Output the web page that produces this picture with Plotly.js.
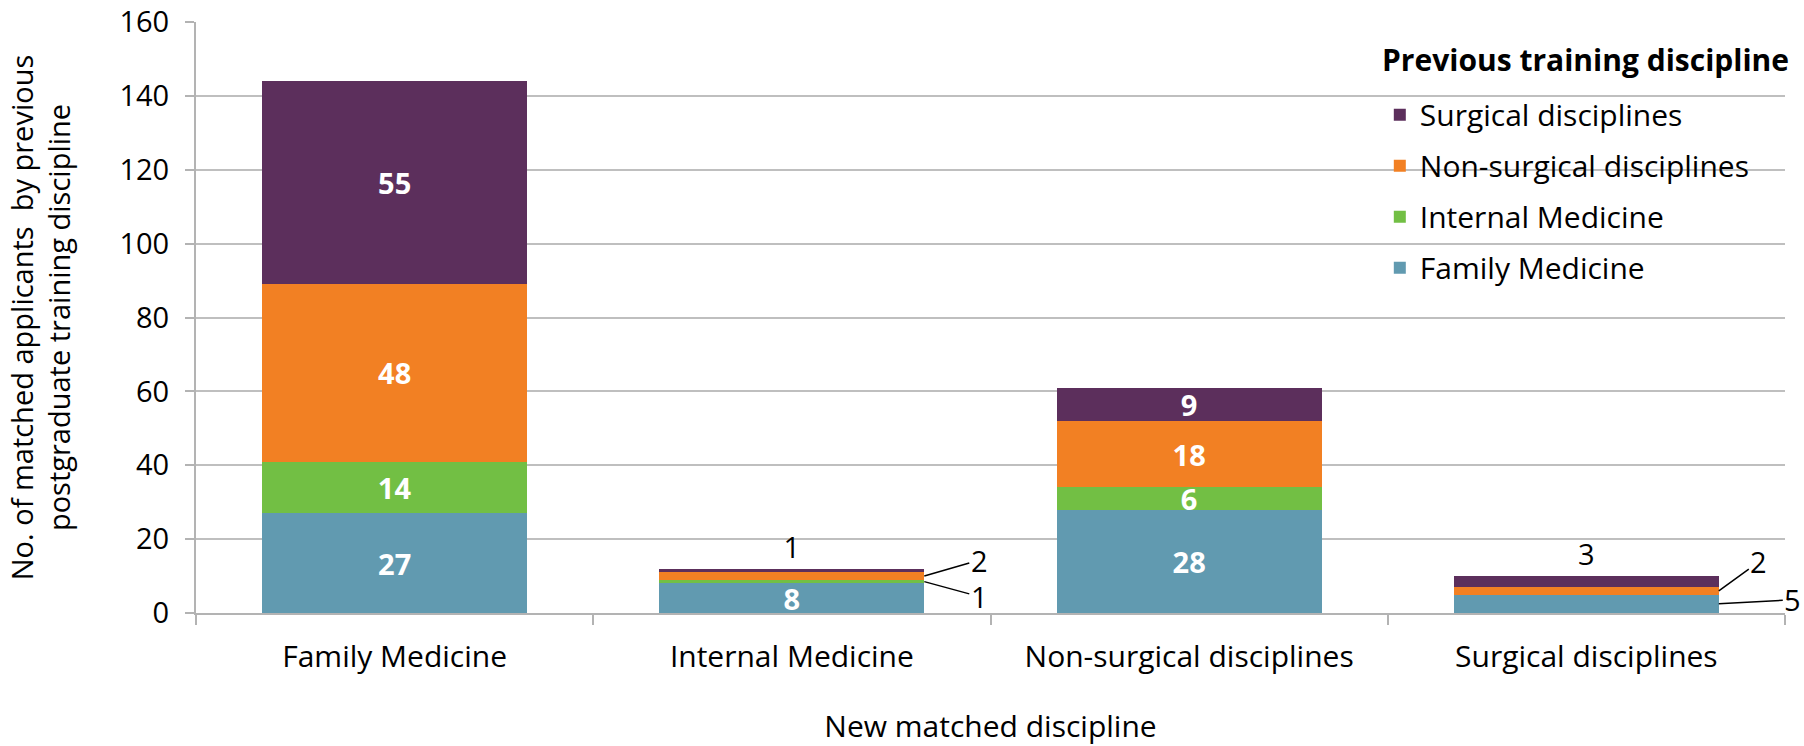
<!DOCTYPE html>
<html>
<head>
<meta charset="utf-8">
<script src="https://cdn.plot.ly/plotly-3.0.1.min.js"></script>
<style>html,body{margin:0;padding:0;background:#fff;}#chart{width:1804px;height:746px;}</style>
</head>
<body>
<div id="chart"></div>
<script>
// New matched discipline (x categories)
const categories = ['Family Medicine', 'Internal Medicine', 'Non-surgical disciplines', 'Surgical disciplines'];

// Previous training discipline (stack series, bottom to top)
const familyMedicine   = [27, 8, 28, 5];
const internalMedicine = [14, 1, 6, 0];
const nonSurgical      = [48, 2, 18, 2];
const surgical         = [55, 1, 9, 3];

const seriesNames  = ['Family Medicine', 'Internal Medicine', 'Non-surgical disciplines', 'Surgical disciplines'];
const seriesValues = [familyMedicine, internalMedicine, nonSurgical, surgical];
const seriesColors = ['#619AB0', '#72BF44', '#F28023', '#5C2F5C'];

const yTitle = 'No. of matched applicants  by previous<br>postgraduate training discipline';
const xTitle = 'New matched discipline';
const legendTitle = 'Previous training discipline';

const FONT = '"Open Sans", "Noto Sans", sans-serif';
const INSIDE_MIN = 6;      // smaller segments get an outside label
const BAR_GAP = 1 / 3;

const traces = seriesValues.map((vals, s) => {
  const isTop = s === seriesValues.length - 1;
  return {
    type: 'bar',
    name: seriesNames[s],
    legendgroup: 'g' + s,
    legendrank: seriesValues.length - s,
    x: categories,
    y: vals,
    marker: { color: seriesColors[s], line: { width: 0 } },
    text: vals.map(v => (v >= INSIDE_MIN || (isTop && v > 0)) ? String(v) : ''),
    textposition: vals.map(v => v >= INSIDE_MIN ? 'inside' : (isTop ? 'outside' : 'none')),
    textangle: 0,
    insidetextanchor: 'middle',
    insidetextfont: { family: FONT, size: 29, color: '#FFFFFF', weight: 700 },
    outsidetextfont: { family: FONT, size: 29, color: '#000000' },
    constraintext: 'none',
    cliponaxis: false,
    hoverinfo: 'skip'
  };
});

// leader-line labels for small, non-top segments
const annotations = [];
const halfBar = (1 - BAR_GAP) / 2;
const offsets = {
  '1-1': [55, 15], '1-2': [55, -16],
  '3-0': [74, -4], '3-2': [40, -29]
};
categories.forEach((c, i) => {
  let cum = 0;
  seriesValues.forEach((vals, s) => {
    const v = vals[i];
    const isTop = s === seriesValues.length - 1;
    if (v > 0 && v < INSIDE_MIN && !isTop) {
      const off = offsets[i + '-' + s] || [50, 0];
      annotations.push({
        x: i + halfBar, y: cum + v / 2, xref: 'x', yref: 'y',
        text: String(v), showarrow: true, arrowhead: 0, arrowwidth: 1.5, arrowcolor: '#000',
        ax: off[0], ay: off[1], standoff: 0,
        font: { family: FONT, size: 29, color: '#000' }
      });
    }
    cum += v;
  });
});

// legend title
annotations.push({
  xref: 'paper', yref: 'paper', x: 0.745, y: 0.936, xanchor: 'left', yanchor: 'middle',
  text: '<b>' + legendTitle + '</b>', showarrow: false,
  font: { family: FONT, size: 30, color: '#000' }
});

const layout = {
  width: 1804, height: 746, autosize: false,
  margin: { l: 196, r: 19, t: 22, b: 133 },
  paper_bgcolor: '#FFFFFF', plot_bgcolor: '#FFFFFF',
  barmode: 'stack', bargap: BAR_GAP,
  font: { family: FONT, color: '#000' },
  showlegend: true,
  legend: {
    x: 0.745, y: 0.887, xanchor: 'left', yanchor: 'top',
    traceorder: 'grouped', tracegroupgap: 9,
    bgcolor: 'rgba(0,0,0,0)',
    font: { family: FONT, size: 30, color: '#000' }
  },
  xaxis: {
    type: 'category', automargin: false,
    range: [-0.5, categories.length - 0.5], autorange: false,
    showline: true, linecolor: '#B3B3B3', linewidth: 2,
    ticks: 'outside', tickson: 'boundaries', ticklen: 10, tickcolor: '#B3B3B3', tickwidth: 2,
    tickfont: { family: FONT, size: 30, color: '#000' },
    ticklabelstandoff: 16,
    showgrid: false, zeroline: false,
    title: { text: xTitle, standoff: 46, font: { family: FONT, size: 30, color: '#000' } }
  },
  yaxis: {
    range: [0, 160], dtick: 20, automargin: false,
    showline: true, linecolor: '#B3B3B3', linewidth: 2,
    ticks: 'outside', ticklen: 9, tickcolor: '#B3B3B3', tickwidth: 2,
    tickfont: { family: FONT, size: 29, color: '#000' },
    ticklabelstandoff: 10,
    showgrid: true, gridcolor: '#BFBFBF', gridwidth: 2,
    zeroline: false,
    title: { text: yTitle, standoff: 40, font: { family: FONT, size: 29, color: '#000' } }
  },
  annotations: annotations
};

Plotly.newPlot('chart', traces, layout, { displayModeBar: false, staticPlot: true });
</script>
</body>
</html>
